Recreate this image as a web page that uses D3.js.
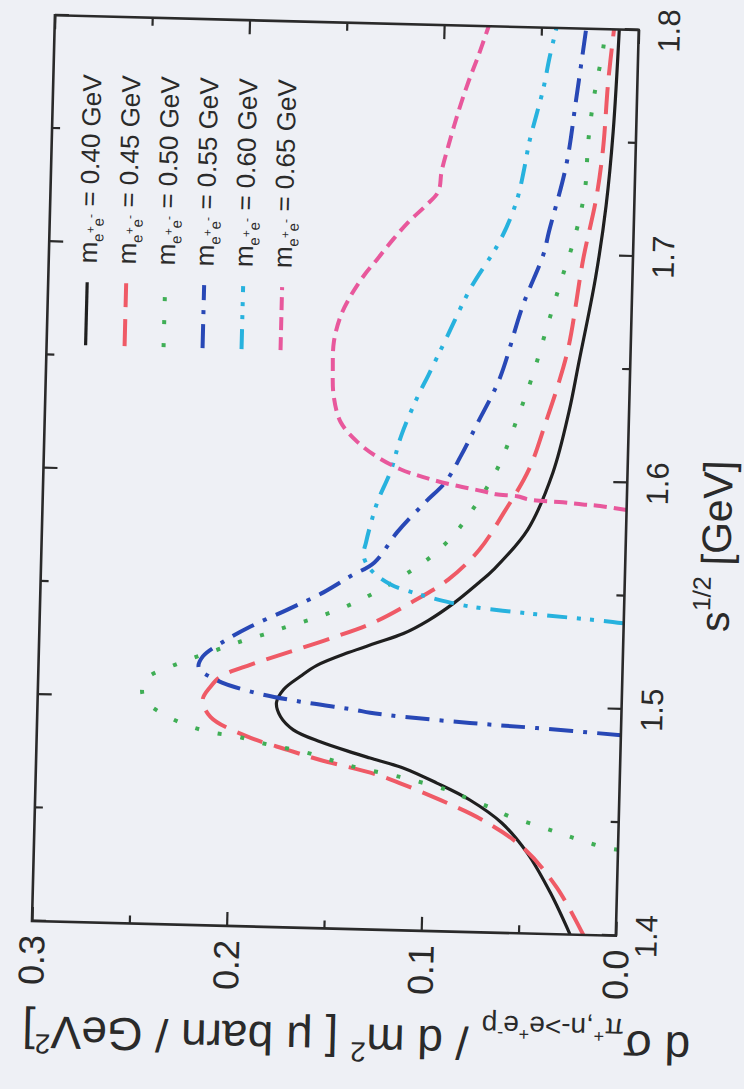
<!DOCTYPE html>
<html>
<head>
<meta charset="utf-8">
<script src="https://cdn.jsdelivr.net/npm/d3@7"></script>
<style>
    html, body { margin: 0; padding: 0; background: #eef0f5; }
    svg { display: block; }
    text { font-family: "Liberation Sans", Arial, Helvetica, sans-serif; fill: #2a2a2a; }
</style>
</head>
<body>
<div id="chart"></div>
<script>
// Tick values
const sMajor = [1.4, 1.5, 1.6, 1.7, 1.8];
const sMinor = [1.45, 1.55, 1.65, 1.75];
const sigMajor = [0.0, 0.1, 0.2, 0.3];
const sigMinor = [0.05, 0.15, 0.25];

// Legend labels (m_ee in GeV)
const massLabels = ["0.40", "0.45", "0.50", "0.55", "0.60", "0.65"];

// Curves: [sqrt(s) in GeV, dsigma/dm^2]
const m040 = [[1.400,0.0235],[1.418,0.0340],[1.4355,0.0465],[1.4485,0.0600],[1.4583,0.0767],[1.4654,0.0939],
    [1.4717,0.1114],[1.4757,0.1285],[1.4778,0.1372],[1.4823,0.1543],[1.4873,0.1683],[1.4929,0.175],[1.4991,0.1773],
    [1.505,0.1738],[1.511,0.1653],[1.516,0.157],[1.522,0.141],[1.5265,0.127],[1.531,0.113],[1.537,0.1005],
    [1.545,0.0875],[1.5544,0.0748],[1.560,0.0678],[1.5783,0.0505],[1.6038,0.0383],[1.6306,0.0309],[1.6528,0.0264],
    [1.690,0.019],[1.722,0.0145],[1.755,0.0118],[1.800,0.010]];
const m045 = [[1.400,0.0167],[1.4207,0.031],[1.438,0.049],[1.4496,0.070],[1.458,0.092],[1.465,0.113],[1.4685,0.125],
    [1.4743,0.154],[1.4784,0.171],[1.4838,0.1917],[1.492,0.2109],[1.4996,0.2152],[1.5055,0.2113],[1.510,0.2063],
    [1.5156,0.191],[1.5214,0.172],[1.5285,0.149],[1.5355,0.1286],[1.5448,0.1094],[1.5553,0.0907],[1.569,0.075],
    [1.5855,0.063],[1.605,0.0506],[1.626,0.0426],[1.6425,0.0368],[1.660,0.0318],[1.6985,0.0255],[1.725,0.0197],
    [1.747,0.0168],[1.777,0.015],[1.800,0.0127]];
const m050 = [[1.438,0.000],[1.4385,0.005],[1.4414,0.0179],[1.4442,0.0286],[1.4475,0.041],[1.4516,0.0566],[1.455,0.0654],
    [1.4591,0.0783],[1.4625,0.0886],[1.4677,0.1129],[1.4717,0.137],[1.4745,0.149],[1.4773,0.1608],[1.4793,0.1731],
    [1.4812,0.185],[1.4837,0.1968],[1.4851,0.2092],[1.4876,0.221],[1.4917,0.2329],[1.4981,0.2443],[1.5032,0.2465],
    [1.5088,0.2437],[1.5139,0.232],[1.518,0.2203],[1.5219,0.2081],[1.5257,0.1965],[1.529,0.1848],[1.5328,0.1726],
    [1.5362,0.1609],[1.540,0.1492],[1.5447,0.137],[1.5502,0.1254],[1.5571,0.1128],[1.5649,0.1003],[1.5749,0.0887],
    [1.5853,0.080],[1.6046,0.067],[1.628,0.057],[1.647,0.0498],[1.668,0.0432],[1.688,0.0368],[1.7085,0.030],
    [1.7294,0.0255],[1.750,0.0245],[1.7707,0.022],[1.7916,0.018],[1.800,0.0172]];
const m055 = [[1.4886,0.000],[1.4908,0.0433],[1.4923,0.0777],[1.4943,0.1121],[1.4957,0.129],[1.4969,0.1377],
    [1.4998,0.165],[1.5037,0.1907],[1.5086,0.2089],[1.5137,0.2177],[1.5187,0.2157],[1.5255,0.2052],[1.5324,0.1916],
    [1.5403,0.1728],[1.5483,0.1546],[1.5557,0.141],[1.5621,0.1288],[1.5757,0.1175],[1.5892,0.1035],[1.5982,0.0935],
    [1.6104,0.0856],[1.6252,0.0774],[1.6444,0.067],[1.677,0.056],[1.700,0.046],[1.710,0.0435],[1.7394,0.0355],
    [1.769,0.0312],[1.800,0.027]];
const m060 = [[1.538,0.000],[1.5385,0.0057],[1.5399,0.0278],[1.5416,0.0535],[1.5437,0.0792],[1.5465,0.0962],
    [1.5492,0.1085],[1.5526,0.1204],[1.559,0.1308],[1.565,0.1345],[1.5708,0.1334],[1.5798,0.131],[1.589,0.128],
    [1.603,0.1215],[1.6186,0.1166],[1.6365,0.1084],[1.6454,0.1035],[1.6628,0.0943],[1.684,0.0831],[1.7033,0.0698],
    [1.7154,0.0635],[1.7257,0.0597],[1.7376,0.057],[1.7496,0.0547],[1.7612,0.0515],[1.7732,0.0482],[1.7866,0.0455],
    [1.800,0.0423]];
const m065 = [[1.588,0.000],[1.5897,0.0159],[1.590,0.0226],[1.5907,0.0328],[1.5916,0.0503],[1.5929,0.0564],
    [1.5935,0.0672],[1.5947,0.0739],[1.5974,0.0909],[1.6003,0.1048],[1.6035,0.1167],[1.6086,0.1286],[1.615,0.139],
    [1.6237,0.148],[1.6351,0.1519],[1.647,0.1527],[1.659,0.1525],[1.6706,0.1493],[1.6796,0.1444],[1.6885,0.138],
    [1.6962,0.1311],[1.7052,0.1231],[1.7128,0.1157],[1.7202,0.107],[1.7265,0.1008],[1.7354,0.0994],[1.747,0.0962],
    [1.7621,0.0915],[1.7755,0.0867],[1.7872,0.0819],[1.800,0.0771]];

const curves = [m040, m045, m050, m055, m060, m065];

// Line styles, one per curve
const colors = ["#1f1f1f", "#ef5a66", "#3fae55", "#2848b6", "#27b2de", "#e8589c"];
const dashes = [null, "27,12", "4,19", "24,10,4,10", "20,10,4,9,4,10", "13,7"];
const widths = [3.2, 4, 4, 4, 4, 4];

function setupChart() {
    const W = 906, H = 584;   // plot area before the page is turned on its side

    const svg = d3.select("#chart")
                  .append("svg")
                  .attr("width", 744)
                  .attr("height", 1089);

    svg.append("rect")
       .attr("width", 744)
       .attr("height", 1089)
       .attr("fill", "#eef0f5");

    // The whole figure is printed rotated (and slightly tilted)
    const g = svg.append("g")
                 .attr("transform", "translate(32,921) rotate(-88.55)");

    const x = d3.scaleLinear().domain([1.4, 1.8]).range([0, W]);
    const y = d3.scaleLinear().domain([0, 0.3]).range([H, 0]);

    const fmt = d3.format(".1f");
    const styleAxis = sel => {
        sel.select(".domain").remove();
        sel.selectAll("line").attr("stroke", "#2a2a2a").attr("stroke-width", 2.2);
        sel.selectAll("text")
           .attr("font-family", "Liberation Sans, Arial, sans-serif")
           .attr("fill", "#2a2a2a");
    };

    // Ticks on all four sides, pointing inwards
    const tickSets = [
        [d3.axisBottom(x), sMajor, 14, `translate(0,${H})`],
        [d3.axisBottom(x), sMinor, 8, `translate(0,${H})`],
        [d3.axisTop(x), sMajor, 14, null],
        [d3.axisTop(x), sMinor, 8, null],
        [d3.axisLeft(y), sigMajor, 14, null],
        [d3.axisLeft(y), sigMinor, 8, null],
        [d3.axisRight(y), sigMajor, 14, `translate(${W},0)`],
        [d3.axisRight(y), sigMinor, 8, `translate(${W},0)`]
    ];
    tickSets.forEach(([ax, vals, len, tr]) => {
        g.append("g")
         .attr("transform", tr)
         .call(ax.tickValues(vals).tickSize(-len).tickSizeOuter(0).tickFormat(""))
         .call(styleAxis);
    });

    // Tick labels, sqrt(s)
    g.append("g")
     .selectAll("text")
     .data(sMajor)
     .join("text")
     .attr("x", d => x(d))
     .attr("y", H + 41)
     .attr("text-anchor", "middle")
     .attr("font-size", 31)
     .text(fmt);

    // Tick labels, cross section
    g.append("g")
     .selectAll("text")
     .data(sigMajor)
     .join("text")
     .attr("x", -14)
     .attr("y", d => y(d))
     .attr("dy", "0.36em")
     .attr("text-anchor", "end")
     .attr("font-size", 36)
     .text(fmt);

    // Clip for the curves
    g.append("clipPath")
     .attr("id", "plot-clip")
     .append("rect")
     .attr("width", W)
     .attr("height", H);

    const line = d3.line()
                   .x(d => x(d[0]))
                   .y(d => y(d[1]))
                   .curve(d3.curveCatmullRom.alpha(0.5));

    const curveGroup = g.append("g").attr("clip-path", "url(#plot-clip)");
    curves.forEach((c, i) => {
        curveGroup.append("path")
                  .datum(c)
                  .attr("fill", "none")
                  .attr("stroke", colors[i])
                  .attr("stroke-width", widths[i])
                  .attr("stroke-dasharray", dashes[i])
                  .attr("d", line);
    });

    // Frame
    g.append("rect")
     .attr("width", W)
     .attr("height", H)
     .attr("fill", "none")
     .attr("stroke", "#2a2a2a")
     .attr("stroke-width", 2.6);

    // Legend (top right of the plot)
    const legend = g.append("g").attr("transform", "translate(577,39)");
    massLabels.forEach((m, i) => {
        const row = legend.append("g").attr("transform", `translate(0,${i * 39})`);
        row.append("line")
           .attr("x1", 0).attr("x2", 63)
           .attr("stroke", colors[i])
           .attr("stroke-width", widths[i])
           .attr("stroke-dasharray", dashes[i]);
        const t = row.append("text")
                     .attr("x", 82)
                     .attr("y", 9)
                     .attr("font-size", 26);
        t.append("tspan").text("m");
        t.append("tspan").attr("font-size", 15).attr("dy", 6).text("e");
        t.append("tspan").attr("font-size", 12).attr("dy", -9).text("+");
        t.append("tspan").attr("font-size", 15).attr("dy", 9).text("e");
        t.append("tspan").attr("font-size", 12).attr("dy", -9).text("-");
        t.append("tspan").attr("dy", 3).text(` = ${m} GeV`);
    });

    // x-axis title
    const xt = g.append("text")
                .attr("x", 392)
                .attr("y", H + 105)
                .attr("text-anchor", "middle")
                .attr("font-size", 41);
    xt.append("tspan").text("s");
    xt.append("tspan").attr("font-size", 25).attr("dy", -19).text("1/2");
    xt.append("tspan").attr("dy", 19).text(" [GeV]");

    // y-axis title
    const yt = g.append("text")
                .attr("transform", "translate(-95,661) rotate(-90)")
                .attr("text-anchor", "start")
                .attr("font-size", 46);
    yt.append("tspan").text("d σ");
    yt.append("tspan").attr("font-size", 28).attr("dy", 12).text("π");
    yt.append("tspan").attr("font-size", 18).attr("dy", -12).text("+");
    yt.append("tspan").attr("font-size", 28).attr("dy", 12).text(",n->e");
    yt.append("tspan").attr("font-size", 18).attr("dy", -12).text("+");
    yt.append("tspan").attr("font-size", 28).attr("dy", 12).text("e");
    yt.append("tspan").attr("font-size", 18).attr("dy", -12).text("-");
    yt.append("tspan").attr("font-size", 28).attr("dy", 12).text("p");
    yt.append("tspan").attr("dy", -12).text(" / d m");
    yt.append("tspan").attr("font-size", 28).attr("dy", -18).text("2");
    yt.append("tspan").attr("dy", 18).text(" [ μ barn / GeV");
    yt.append("tspan").attr("font-size", 28).attr("dy", -18).text("2");
    yt.append("tspan").attr("dy", 18).text("]");
}

setupChart();
</script>
</body>
</html>
